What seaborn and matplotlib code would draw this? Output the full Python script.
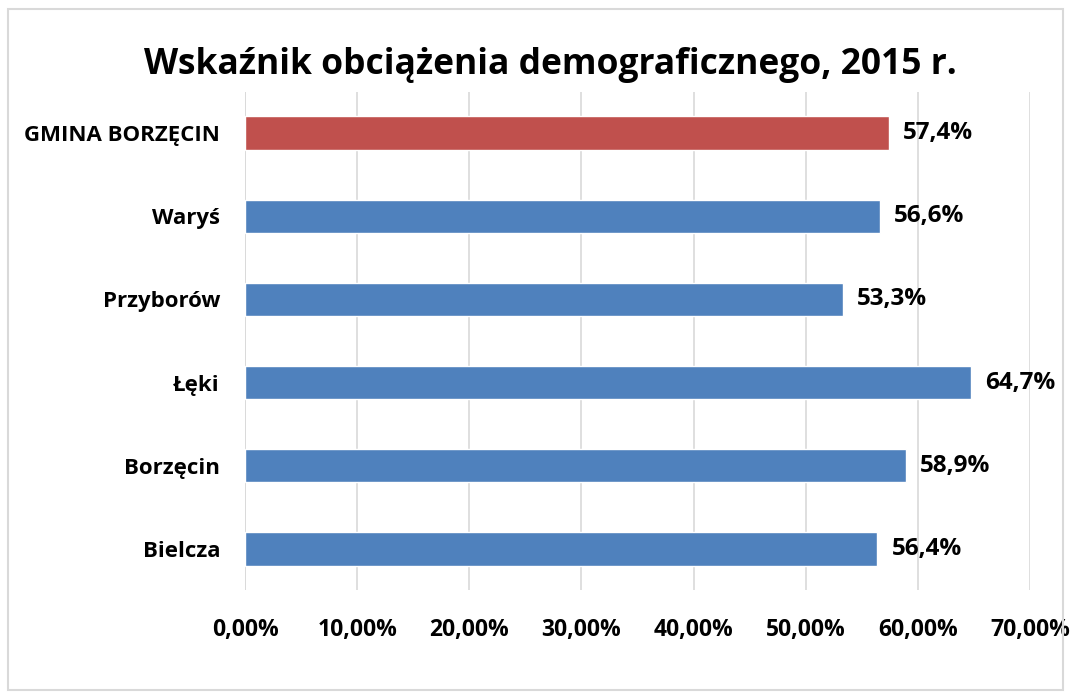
import matplotlib
matplotlib.use("Agg")
import matplotlib.pyplot as plt
import seaborn as sns
import pandas as pd
from matplotlib.patches import Rectangle
from matplotlib.ticker import FuncFormatter

categories = ["GMINA BORZĘCIN", "Waryś", "Przyborów", "Łęki", "Borzęcin", "Bielcza"]
values = [57.4, 56.6, 53.3, 64.7, 58.9, 56.4]
bar_colors = ["#C0504D", "#4F81BD", "#4F81BD", "#4F81BD", "#4F81BD", "#4F81BD"]
x_ticks = [0, 10, 20, 30, 40, 50, 60, 70]

df = pd.DataFrame({"cat": categories, "val": values})

sns.set_style("white")
plt.rcParams["font.family"] = ["Open Sans", "DejaVu Sans"]
plt.rcParams["text.color"] = "black"
plt.rcParams["xtick.color"] = "black"
plt.rcParams["ytick.color"] = "black"

fig = plt.figure(figsize=(10.71, 6.97), dpi=100)
ax = fig.add_axes([0.2288, 0.1528, 0.7329, 0.7159])

sns.barplot(data=df, y="cat", x="val", hue="cat", palette=bar_colors,
            legend=False, width=0.4, ax=ax, orient="h", saturation=1)

for i, v in enumerate(values):
    ax.text(v + 1.3, i, f"{v:.1f}%".replace(".", ","), va="center", ha="left",
            fontsize=17.5, fontweight="bold", color="black")

ax.set_xlim(0, 70)
ax.set_xticks(x_ticks)
ax.xaxis.set_major_formatter(FuncFormatter(lambda x, p: f"{x:.2f}%".replace(".", ",")))
ax.grid(axis="x", color="#D9D9D9", linewidth=1.2)
ax.set_axisbelow(True)
for s in ax.spines.values():
    s.set_visible(False)
ax.axvline(0, color="#D9D9D9", linewidth=1.2, zorder=0)
ax.tick_params(axis="x", length=0, labelsize=16.5, pad=20)
ax.tick_params(axis="y", length=0, labelsize=16, pad=18)
for lbl in ax.get_xticklabels() + ax.get_yticklabels():
    lbl.set_fontweight("bold")
ax.set_xlabel("")
ax.set_ylabel("")

fig.text(0.514, 0.907, "Wskaźnik obciążenia demograficznego, 2015 r.", ha="center",
         va="center", fontsize=25.5, fontweight="bold")

fig.patches.append(Rectangle((8 / 1071, 7 / 697), 1055 / 1071, 681 / 697,
                             transform=fig.transFigure, fill=False,
                             edgecolor="#D9D9D9", linewidth=1.5))

fig.savefig("out.png", dpi=100)
